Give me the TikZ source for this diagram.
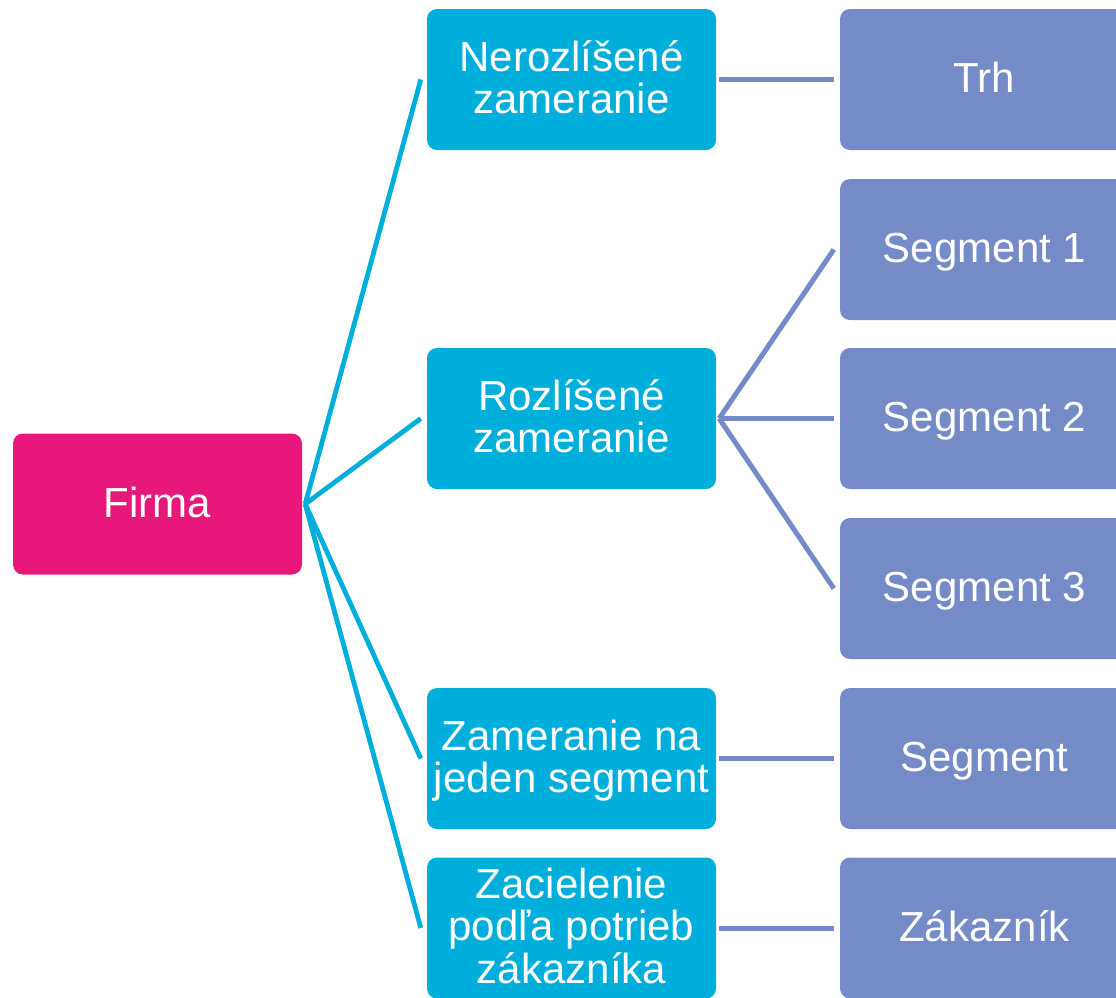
\documentclass[tikz,border=0pt]{standalone}
\usepackage{fontspec}
\setmainfont{Liberation Sans}
\usetikzlibrary{calc}
\definecolor{firmacol}{RGB}{232,24,122}
\definecolor{approachcol}{RGB}{0,174,219}
\definecolor{targetcol}{RGB}{116,139,199}
% line strut: every text line gets the same 42pt line box
\newcommand\lnstrut{\rule[-8pt]{0pt}{42pt}}
\tikzset{
  box/.style={rectangle, rounded corners=10pt, inner sep=0pt,
    minimum width=289pt, minimum height=141pt, text=white, align=center,
    font=\fontsize{42pt}{42pt}\selectfont},
  firmabox/.style={box, fill=firmacol},
  approachbox/.style={box, fill=approachcol},
  targetbox/.style={box, fill=targetcol},
  cyanlink/.style={draw=approachcol, line width=4.8pt},
  bluelink/.style={draw=targetcol, line width=5pt}
}
\begin{document}
\begin{tikzpicture}[x=1pt, y=-1pt]
  \useasboundingbox (0,0) rectangle (1116,997);
  \clip (0,0) rectangle (1116,997);

  % root
  \node[firmabox] (firma) at (157.5,504) {\lnstrut Firma};

  % marketing approaches
  \node[approachbox] (undiff) at (571.5,79.5) {\lnstrut Nerozlíšené\\\lnstrut zameranie};
  \node[approachbox] (diff) at (571.5,418.5) {\lnstrut Rozlíšené\\\lnstrut zameranie};
  \node[approachbox] (single) at (571.5,758.5) {\lnstrut Zameranie na\\\lnstrut jeden segment};
  \node[approachbox] (custom) at (571.5,928) {\lnstrut Zacielenie\\\lnstrut podľa potrieb\\\lnstrut zákazníka};

  % targets
  \node[targetbox] (market) at (984.5,79.5) {\lnstrut Trh};
  \node[targetbox] (seg1) at (984.5,249.5) {\lnstrut Segment 1};
  \node[targetbox] (seg2) at (984.5,418.5) {\lnstrut Segment 2};
  \node[targetbox] (seg3) at (984.5,588.5) {\lnstrut Segment 3};
  \node[targetbox] (seg) at (984.5,758.5) {\lnstrut Segment};
  \node[targetbox] (customer) at (984.5,928) {\lnstrut Zákazník};

  % links from the firm
  \coordinate (froot) at ($(firma.east)+(3,0)$);
  \foreach \n in {undiff, diff, single, custom}
    \draw[cyanlink] (froot) -- ($(\n.west)+(-6,0)$);

  % links to targets
  \draw[bluelink] ($(undiff.east)+(3,0)$) -- ($(market.west)+(-6,0)$);
  \coordinate (droot) at ($(diff.east)+(3,0)$);
  \foreach \n in {seg1, seg2, seg3}
    \draw[bluelink] (droot) -- ($(\n.west)+(-6,0)$);
  \draw[bluelink] ($(single.east)+(3,0)$) -- ($(seg.west)+(-6,0)$);
  \draw[bluelink] ($(custom.east)+(3,0)$) -- ($(customer.west)+(-6,0)$);
\end{tikzpicture}
\end{document}
